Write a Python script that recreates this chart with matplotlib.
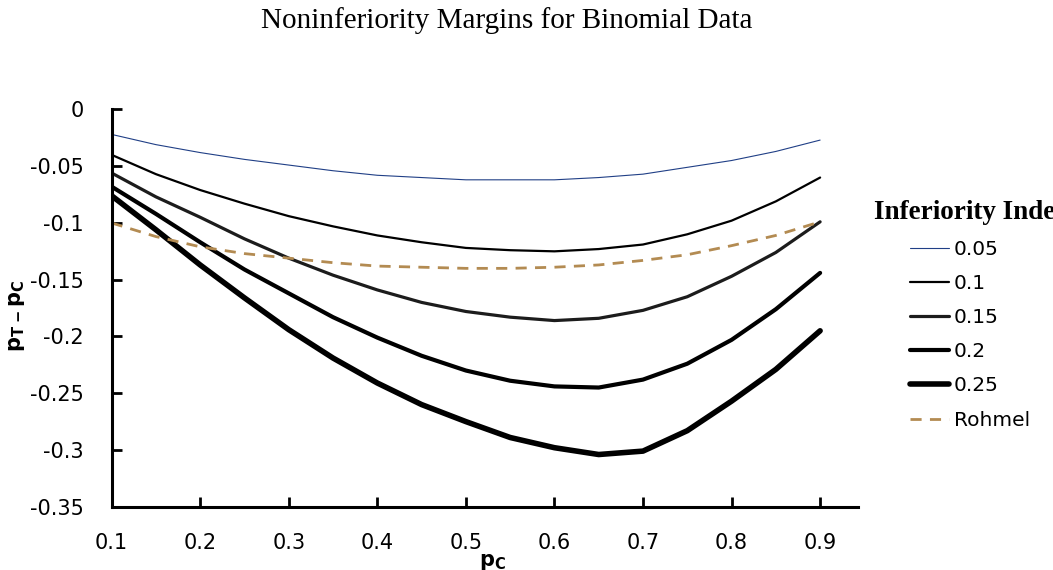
import matplotlib
matplotlib.use("Agg")
import matplotlib.pyplot as plt

plt.rcParams["mathtext.fontset"] = "dejavusans"

# p_C values on the x axis
p_c = [0.1, 0.15, 0.2, 0.25, 0.3, 0.35, 0.4, 0.45, 0.5,
       0.55, 0.6, 0.65, 0.7, 0.75, 0.8, 0.85, 0.9]

# noninferiority margins (p_T - p_C), one list per inferiority index
m_005 = [-0.022, -0.031, -0.038, -0.044, -0.049, -0.054, -0.058, -0.060, -0.062,
         -0.062, -0.062, -0.060, -0.057, -0.051, -0.045, -0.037, -0.027]
m_010 = [-0.040, -0.057, -0.071, -0.083, -0.094, -0.103, -0.111, -0.117, -0.122,
         -0.124, -0.125, -0.123, -0.119, -0.110, -0.098, -0.081, -0.060]
m_015 = [-0.056, -0.077, -0.095, -0.114, -0.131, -0.146, -0.159, -0.170, -0.178,
         -0.183, -0.186, -0.184, -0.177, -0.165, -0.147, -0.126, -0.099]
m_020 = [-0.068, -0.092, -0.117, -0.141, -0.162, -0.183, -0.201, -0.217, -0.230,
         -0.239, -0.244, -0.245, -0.238, -0.224, -0.203, -0.176, -0.144]
m_025 = [-0.076, -0.106, -0.137, -0.166, -0.194, -0.219, -0.241, -0.260, -0.275,
         -0.289, -0.298, -0.304, -0.301, -0.283, -0.257, -0.229, -0.195]
rohmel = [-0.100, -0.112, -0.121, -0.127, -0.131, -0.135, -0.138, -0.139, -0.140,
          -0.140, -0.139, -0.137, -0.133, -0.128, -0.120, -0.111, -0.099]

labels = ["0.05", "0.1", "0.15", "0.2", "0.25", "Rohmel"]
x_ticks = [0.1, 0.2, 0.3, 0.4, 0.5, 0.6, 0.7, 0.8, 0.9]
y_ticks = [0, -0.05, -0.1, -0.15, -0.2, -0.25, -0.3, -0.35]

fig = plt.figure(figsize=(10.53, 5.70), dpi=100)
ax = fig.add_axes([0.106, 0.111, 0.709, 0.697])

series = [m_005, m_010, m_015, m_020, m_025]
colors = ["#203f86", "black", "#1c1c1c", "black", "black"]
widths = [0.8, 1.6, 2.3, 3.0, 4.0]
for vals, lab, col, lw in zip(series, labels, colors, widths):
    ax.plot(p_c, vals, color=col, lw=lw, label=lab, solid_capstyle="round")
ax.plot(p_c, rohmel, color="#b38b52", lw=2.0, ls=(0, (4, 3)), label=labels[-1])

ax.set_xlim(0.1, 0.943)
ax.set_ylim(-0.35, 0)
ax.set_xticks(x_ticks)
ax.set_xticklabels([f"{t:g}" for t in x_ticks])
ax.set_yticks(y_ticks)
ax.set_yticklabels([f"{t:g}" for t in y_ticks])

for side in ["top", "right"]:
    ax.spines[side].set_visible(False)
for side in ["left", "bottom"]:
    ax.spines[side].set_linewidth(2.2)
ax.tick_params(axis="both", direction="in", length=7, width=2, labelsize=15)
ax.tick_params(axis="x", pad=19)
ax.tick_params(axis="y", pad=20)

ax.set_xlabel(r"$\mathbf{p_{C}}$", fontsize=15, labelpad=-1, x=0.51)
ax.set_ylabel(r"$\mathbf{p_{T}\,{}_{-}\,p_{C}}$", fontsize=15, labelpad=2, y=0.48)

fig.text(0.481, 0.964, "Noninferiority Margins for Binomial Data",
         ha="center", va="center", fontsize=21, family="Liberation Serif")

# legend title is cut by the right edge of the figure, as in the source
fig.text(0.830, 0.628, "Inferiority Index", ha="left", va="center",
         fontsize=19.5, fontweight="bold", family="Liberation Serif")
ax.legend(loc="upper left", bbox_to_anchor=(0.857, 0.593),
          bbox_transform=fig.transFigure, frameon=False,
          prop={"size": 14.5}, handlelength=1.9,
          handletextpad=0.25, labelspacing=0.75, borderaxespad=0)

fig.savefig("out.png")
